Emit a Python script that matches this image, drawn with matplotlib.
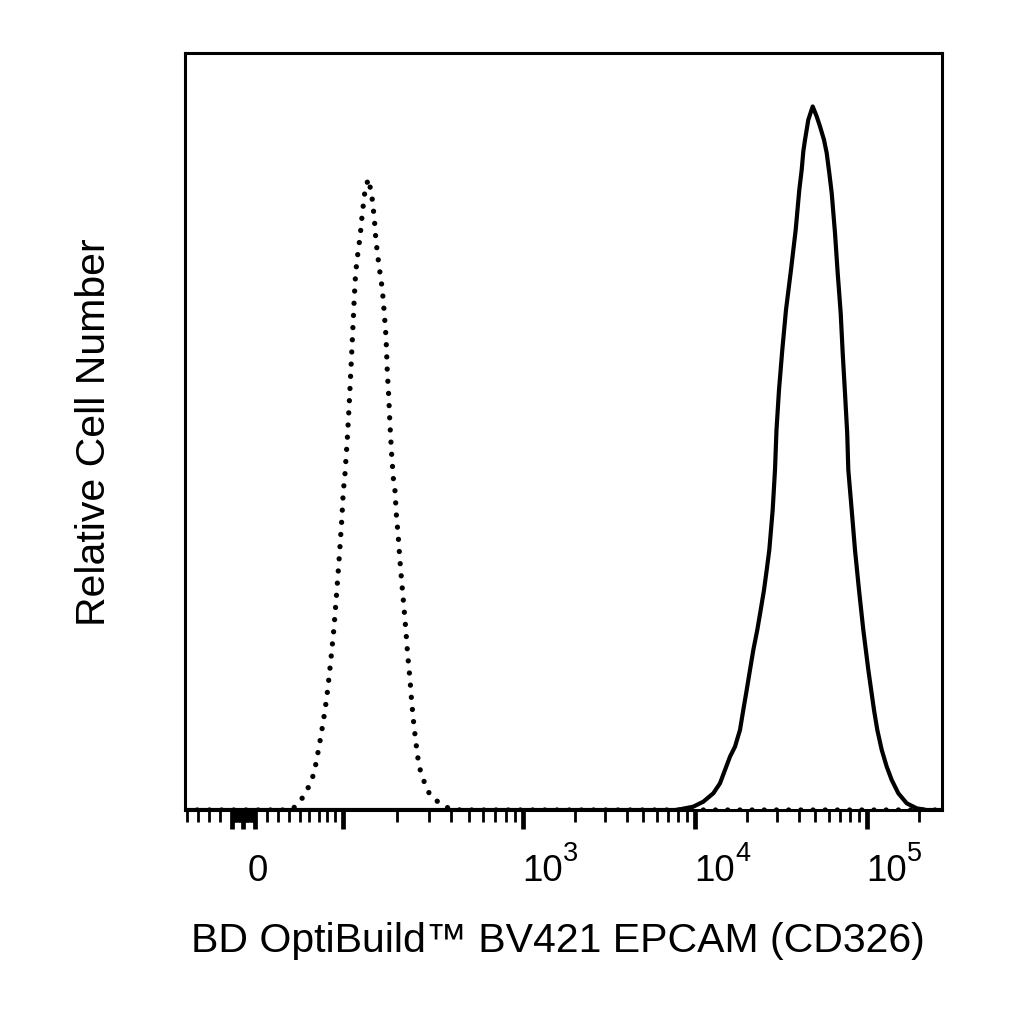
import numpy as np
import matplotlib
matplotlib.use("Agg")
import matplotlib.pyplot as plt
from matplotlib import transforms

plt.rcParams['font.family'] = ['Liberation Sans', 'DejaVu Sans']

# ---------------- data (fluorescence intensity vs relative cell number) ----------------
# Isotype / unstained control (dotted)
ctrl_x = [-52.4, 36.1, 43.9, 51.1, 57.2, 62.5, 66.1, 70.8, 75.4, 79.4, 82.5, 85.4, 88.3,
          91.7, 95.1, 98.2, 100.4, 102.6, 105.7, 108.4, 110.8, 113.2, 115.6, 117.6,
          121.6, 124.3, 128.0, 132.5, 138.2, 144.3, 149.2, 152.5, 158.5, 165.3, 169.6,
          173.4, 176.3, 179.5, 182.4, 186.5, 190.3, 194.5, 197.8, 202.9, 207.3, 212.7,
          218.3, 223.9, 228.8, 235.6, 240.8, 248.0, 256.8, 262.1, 270.2, 285.5, 304.3,
          342.8, 384.6, 446.7, 272900]
ctrl_y = [0, 0, 0.22, 1.23, 2.55, 3.88, 5.52, 8.51, 11.68, 14.81, 17.86, 20.94, 24.11,
          28.74, 33.51, 38.13, 42.06, 44.44, 49.07, 53.84, 58.47, 63.10, 67.86, 71.03,
          74.07, 75.66, 78.84, 81.89, 83.47, 81.48, 78.31, 75.26, 71.96, 68.92, 65.74,
          62.57, 57.94, 54.76, 50.93, 46.96, 43.92, 42.20, 39.15, 36.11, 32.94, 29.76,
          26.72, 23.54, 20.50, 17.33, 14.29, 11.11, 8.07, 6.48, 5.03, 3.44, 1.98,
          0.93, 0.26, 0, 0]

# BD OptiBuild BV421 EPCAM (CD326) stained cells (solid)
stain_x = [-52.4, 7650, 8179, 9775, 11176, 12782, 13975, 14943, 15976, 17081, 18260,
           19090, 19980, 20880, 21830, 23020, 24100, 25190, 26120, 27040, 28290, 29180,
           29770, 30790, 32180, 33810, 36150, 38500, 40400, 41720, 42630, 43610, 45580,
           48340, 51000, 53310, 56230, 58310, 60370, 62350, 65160, 67550, 70320, 72230,
           74490, 76720, 77860, 81470, 85150, 89840, 95170, 101800, 109800, 114800,
           121800, 130200, 139200, 152100, 170100, 194500, 222400, 272900]
stain_y = [0, 0, 0.09, 0.44, 1.10, 2.21, 3.53, 5.29, 7.05, 8.37, 10.58,
           13.23, 15.87, 18.52, 21.16, 23.81, 26.46, 29.10, 31.75, 34.39, 39.68, 44.97,
           50.26, 55.56, 60.85, 66.14, 71.43, 76.72, 82.01, 84.66, 87.08, 88.62, 91.27,
           93.03, 91.71, 90.38, 88.62, 86.87, 84.22, 81.57, 76.28, 70.99, 65.70, 60.41,
           55.12, 49.83, 44.97, 39.68, 34.39, 29.10, 23.81, 18.52, 13.23, 10.58,
           7.94, 5.73, 3.97, 2.21, 0.89, 0.22, 0, 0]

major_ticks = [-10, 0, 10, 100, 1000, 10000, 100000]
minor_ticks = ([-50, -40, -30, -20] + list(range(-9, 0)) + list(range(1, 10)) +
               list(range(20, 100, 10)) + list(range(200, 1000, 100)) +
               list(range(2000, 10000, 1000)) + list(range(20000, 100000, 10000)) +
               [200000])
label_vals = [0, 1000, 10000, 100000]
label_base = ['0', '10', '10', '10']
label_exp = ['', '3', '4', '5']

x_label = 'BD OptiBuild\u2122 BV421 EPCAM (CD326)'
y_label = 'Relative Cell Number'


# ---------------- biexponential-like display scale ----------------
def fwd(x):
    x = np.asarray(x, dtype=float)
    a = np.abs(x)
    s = np.sign(x)
    safe = np.maximum(a, 1e-12)
    lin = 95.0 * np.arcsinh(a / 80.0)
    d2 = 99.5 + 180.0 * np.log10(np.maximum(safe, 100.0) / 100.0)
    d3 = 279.5 + 172.0 * np.log10(np.maximum(safe, 1000.0) / 1000.0)
    u = np.where(a <= 100, lin, np.where(a <= 1000, d2, d3))
    return s * u


def inv(u):
    u = np.asarray(u, dtype=float)
    a = np.abs(u)
    s = np.sign(u)
    r1 = 80.0 * np.sinh(np.minimum(a, 99.5) / 95.0)
    r2 = 100.0 * 10 ** ((np.clip(a, 99.5, 279.5) - 99.5) / 180.0)
    r3 = 1000.0 * 10 ** ((np.clip(a, 279.5, 2000) - 279.5) / 172.0)
    x = np.where(a <= 99.5, r1, np.where(a <= 279.5, r2, r3))
    return s * x


fig = plt.figure(figsize=(10.24, 10.24), dpi=100)
ax = fig.add_axes([185 / 1024, 1 - 810 / 1024, 757 / 1024, 757 / 1024])
ax.set_xscale('function', functions=(fwd, inv))

ax.plot(ctrl_x, ctrl_y, color='black', lw=3.8, linestyle=(0, (0.01, 2.3)),
        dash_capstyle='round', solid_capstyle='round')
ax.plot(stain_x, stain_y, color='black', lw=3.0, solid_joinstyle='round')

ax.set_xlim(-52.4, 272900)
ax.set_ylim(0, 100.1)

ax.set_xticks(major_ticks)
ax.set_xticks(minor_ticks, minor=True)
ax.set_xticklabels([])
ax.tick_params(axis='x', which='major', direction='out', length=14, width=3.4, color='black')
ax.tick_params(axis='x', which='minor', direction='out', length=8.5, width=2.0, color='black')
ax.set_yticks([])
for sp in ax.spines.values():
    sp.set_linewidth(2.2)

trans = transforms.blended_transform_factory(ax.transData, ax.transAxes)
for v, b, e in zip(label_vals, label_base, label_exp):
    dx = 4 / 100 if v == 0 else -1 / 100
    ax.text(v, -71 / 757, b,
            transform=trans + transforms.ScaledTranslation(dx, 0, fig.dpi_scale_trans),
            ha='left', va='baseline', fontsize=26.5)
    if e:
        ax.text(v, -71 / 757, e,
                transform=trans + transforms.ScaledTranslation(dx + 41 / 100, 20 / 100,
                                                               fig.dpi_scale_trans),
                ha='left', va='baseline', fontsize=19.5)

fig.text(557.5 / 1024, 1 - 952 / 1024, x_label, ha='center', va='baseline', fontsize=29.5)
fig.text(94 / 1024, 1 - 432.5 / 1024, y_label, ha='center', va='center', rotation=90, fontsize=29.5)

fig.savefig('out.png', dpi=100, facecolor='white')
